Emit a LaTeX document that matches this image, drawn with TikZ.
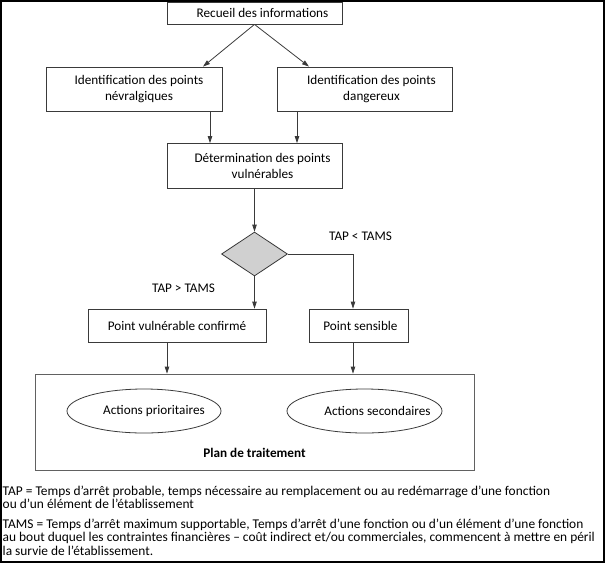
\documentclass[tikz,border=0pt]{standalone}
\usepackage{fontspec}
\setmainfont{Carlito}
\usetikzlibrary{arrows.meta,shapes.geometric,positioning}
\definecolor{edge}{HTML}{3A3A3A}
\definecolor{dfill}{HTML}{D0D0D0}
\tikzset{
  box/.style={draw=edge, line width=0.8pt, rectangle, inner sep=0pt},
  lbl/.style={inner sep=0pt, align=center, font=\fontsize{13.2}{16}\selectfont},
  arr/.style={draw=edge, line width=0.8pt, -{Triangle[length=7pt,width=4.5pt]}},
  ln/.style={draw=edge, line width=0.8pt},
  oval/.style={draw=edge, line width=0.8pt, ellipse, inner sep=0pt},
  foot/.style={inner sep=0pt, align=left, anchor=north west, font=\fontsize{13.4}{13.3}\selectfont},
}
\begin{document}
\begin{tikzpicture}[x=1pt,y=-1pt]
\useasboundingbox (0,0) rectangle (605,563);
\draw[black, line width=2pt] (1,1) rectangle (604,562);
% boxes
\node[box, minimum width=175pt, minimum height=22pt] (recueil) at (254.5,13) {};
\node[lbl] (recueilt) at ([xshift=8pt]recueil.center) {Recueil des informations};
\node[box, minimum width=176pt, minimum height=44pt] (nevr) at (134,89) {};
\node[lbl] (nevrt) at ([xshift=5pt]nevr.center) {Identification des points\\névralgiques};
\node[box, minimum width=175pt, minimum height=44pt] (dang) at (364.5,89) {};
\node[lbl] (dangt) at ([xshift=7pt]dang.center) {Identification des points\\dangereux};
\node[box, minimum width=175pt, minimum height=45pt] (determ) at (254.5,166) {};
\node[lbl] (determt) at ([xshift=8pt]determ.center) {Détermination des points\\vulnérables};
\node[draw=edge, line width=0.8pt, fill=dfill, diamond, aspect=1.5, minimum width=66pt, minimum height=44pt, inner sep=0pt] (dec) at (254.5,254) {};
\node[box, minimum width=178pt, minimum height=33pt] (pvc) at (177,325.5) {};
\node[lbl] (pvct) at ([xshift=0pt]pvc.center) {Point vulnérable confirmé};
\node[box, minimum width=99pt, minimum height=33pt] (ps) at (358.5,325.5) {};
\node[lbl] (pst) at ([xshift=2pt]ps.center) {Point sensible};
\node[box, draw=edge!80, minimum width=439pt, minimum height=96pt] (plan) at (254.5,422) {};
\node[oval, minimum width=154pt, minimum height=44pt] (prio) at (144,411) {};
\node[lbl] (priot) at ([xshift=10pt]prio.center) {Actions prioritaires};
\node[oval, minimum width=155pt, minimum height=44pt] (sec) at (364.5,411) {};
\node[lbl] (sect) at ([xshift=13pt]sec.center) {Actions secondaires};
\node[lbl, font=\fontsize{13.2}{16}\selectfont\bfseries] (plant) at (254.5,453) {Plan de traitement};
% labels
\node[lbl] (lt) at (360.5,236) {TAP < TAMS};
\node[lbl] (gt) at (183.5,288) {TAP > TAMS};
% connectors
\draw[arr] (recueil.south) -- (nevr.north -| 203,0);
\draw[arr] (recueil.south) -- (dang.north -| 309,0);
\draw[arr] (nevr.south -| 210,0) -- (determ.north -| 210,0);
\draw[arr] (dang.south -| 297,0) -- (determ.north -| 297,0);
\draw[arr] (determ.south) -- (dec.north);
\draw[arr] (dec.south) -- (dec.south |- pvc.north);
\coordinate (corner) at (dec.east -| 353,0);
\draw[arr] (dec.east) -- (corner) -- (corner |- ps.north);
\draw[arr] (pvc.south -| 167,0) -- (plan.north -| 167,0);
\draw[arr] (ps.south -| 353,0) -- (plan.north -| 353,0);
% footer
\node[foot] (tap) at (2.5,486) {TAP = Temps d’arrêt probable, temps nécessaire au remplacement ou au redémarrage d’une fonction\\ou d’un élément de l’établissement};
\node[foot] (tams) at (2.5,519) {TAMS = Temps d’arrêt maximum supportable, Temps d’arrêt d’une fonction ou d’un élément d’une fonction\\au bout duquel les contraintes financières – coût indirect et/ou commerciales, commencent à mettre en péril\\la survie de l’établissement.};
\end{tikzpicture}
\end{document}
